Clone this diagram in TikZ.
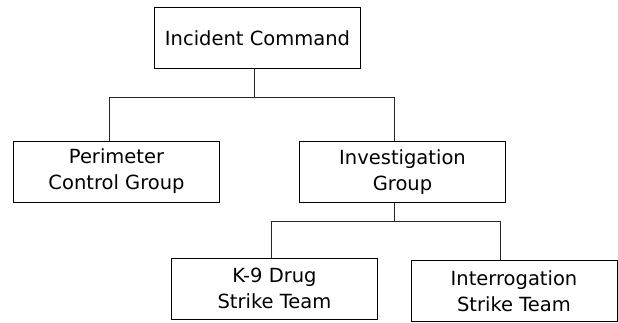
\documentclass[tikz,border=0pt]{standalone}
\usepackage{fontspec}
\setmainfont{DejaVu Sans}
\usepackage{tikz}
\usetikzlibrary{positioning}

\tikzset{unitbox/.style={draw=black,line width=1pt,minimum width=206pt,minimum height=61pt,align=center,inner sep=0pt,font=\fontsize{19.5}{26}\selectfont},
buswire/.style={draw=black!85,line width=0.9pt}}

\begin{document}
\begin{tikzpicture}[line cap=rect,line join=miter,x=1pt,y=1pt]
\useasboundingbox (0,0) rectangle (618,322);
\node [unitbox] (ic) at (257.5,284) {Incident Command};
\node [unitbox] (pcg) at (116.5,150.5) {Perimeter\\Control Group};
\node [unitbox] (ig) at (402.5,150) {Investigation\\Group};
\node [unitbox] (k9) at (274.5,33.5) {K-9 Drug\\Strike Team};
\node [unitbox] (irg) at (514,31) {Interrogation\\Strike Team};
\coordinate (topbusl) at (109,225);
\coordinate (topbusm) at (254,225);
\coordinate (topbusr) at (394,225);
\coordinate (lowbusl) at (271,100.5);
\coordinate (lowbusr) at (500,100.5);
\draw [buswire] (topbusm |- ic.south) -- (topbusm);
\draw [buswire] (topbusl |- pcg.north) -- (topbusl) -- (topbusr) -- (topbusr |- ig.north);
\draw [buswire] (topbusr |- ig.south) -- (topbusr |- lowbusl);
\draw [buswire] (lowbusl |- k9.north) -- (lowbusl) -- (lowbusr) -- (lowbusr |- irg.north);
\end{tikzpicture}
\end{document}
